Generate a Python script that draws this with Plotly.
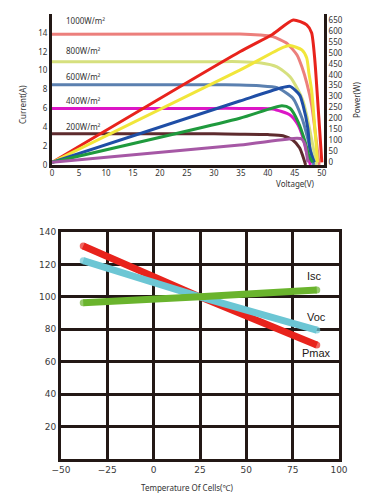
import plotly.graph_objects as go

# ---------------- Top chart data (I-V and P-V curves) ----------------
irr_labels = ["1000W/m²", "800W/m²", "600W/m²", "400W/m²", "200W/m²"]

# I-V curves (Voltage V, Current A)
iv_v_1000 = [0, 30, 34.8, 38.5, 40.9, 43.5, 45.4, 46.3, 47.2, 48.1, 49.5]
iv_i_1000 = [13.85, 13.88, 13.88, 13.77, 13.6, 12.9, 11.66, 10.4, 8.7, 6.4, 0]
iv_v_800 = [0, 30, 34.8, 38.5, 41.7, 44.1, 45.6, 46.5, 47.6, 49.0]
iv_i_800 = [10.95, 10.95, 10.95, 10.84, 10.4, 9.36, 7.95, 6.8, 4.2, 0]
iv_v_600 = [0, 30, 34.8, 38.5, 41.7, 44.6, 46.3, 47.3, 48.5]
iv_i_600 = [8.5, 8.5, 8.48, 8.4, 8.2, 7.1, 5.0, 3.0, 0]
iv_v_400 = [0, 30, 34.8, 38.5, 40.9, 44.1, 45.6, 46.5, 47.2, 47.9]
iv_i_400 = [6.0, 6.0, 6.0, 5.98, 5.93, 5.3, 4.24, 2.9, 1.3, 0]
iv_v_200 = [0, 30, 34.8, 40, 42.8, 44.6, 45.9, 46.5, 47.0]
iv_i_200 = [3.3, 3.3, 3.27, 3.22, 3.1, 2.65, 1.8, 0.9, 0]

# P-V curves (Voltage V, Power W)
pv_v_1000 = [0, 34.8, 40.9, 44.7, 47.2, 48.1, 48.7, 49.1, 50.0]
pv_p_1000 = [0, 505, 585, 650, 627, 591, 467, 330, 0]
pv_v_800 = [0, 34.8, 42.8, 44.1, 46.3, 47.2, 47.6, 48.1, 49.2]
pv_p_800 = [0, 421, 525, 533, 513, 476, 408, 330, 0]
pv_v_600 = [0, 34.8, 42.2, 44.1, 45.9, 46.5, 47.4, 47.8, 48.6]
pv_p_600 = [0, 280, 338, 347, 307, 262, 157, 60, 0]
pv_v_400 = [0, 34.8, 42.6, 44.1, 45.6, 46.9, 47.6, 48.3]
pv_p_400 = [0, 201, 258, 247, 185, 94, 30, 0]
pv_v_200 = [0, 34.8, 45.4, 46.3, 46.9, 47.4]
pv_p_200 = [0, 79, 110, 106, 79, 0]

iv_colors = ["#ec7f7c", "#d6e07e", "#5b80b0", "#dc16c6", "#5e2b2e"]
pv_colors = ["#e8231c", "#f1e63a", "#1f4ea6", "#1f9a3d", "#a658a5"]

x_ticks_top = [0, 5, 10, 15, 20, 25, 30, 35, 40, 45, 50]
i_ticks = [0, 2, 4, 6, 8, 10, 12, 14]
p_ticks = [0, 50, 100, 150, 200, 250, 300, 350, 400, 450, 500, 550, 600, 650]

# ---------------- Bottom chart data (temperature coefficients) ----------------
temp = [-38, 25, 88]
pmax_vals = [131.4, 100.0, 70.3]
voc_vals = [122.3, 100.0, 79.5]
isc_vals = [96.4, 100.0, 104.2]
series_names = ["Isc", "Voc", "Pmax"]
temp_ticks = [-50, -25, 0, 25, 50, 75, 100]
pct_ticks = [20, 40, 60, 80, 100, 120, 140]

fig = go.Figure()

iv_v = [iv_v_1000, iv_v_800, iv_v_600, iv_v_400, iv_v_200]
iv_i = [iv_i_1000, iv_i_800, iv_i_600, iv_i_400, iv_i_200]
pv_v = [pv_v_1000, pv_v_800, pv_v_600, pv_v_400, pv_v_200]
pv_p = [pv_p_1000, pv_p_800, pv_p_600, pv_p_400, pv_p_200]

for k in range(5):
    fig.add_trace(go.Scatter(x=iv_v[k], y=iv_i[k], mode="lines",
                             line=dict(color=iv_colors[k], width=3, shape="spline", smoothing=0.6),
                             xaxis="x", yaxis="y", showlegend=False, hoverinfo="skip"))
for k in range(5):
    fig.add_trace(go.Scatter(x=pv_v[k], y=pv_p[k], mode="lines",
                             line=dict(color=pv_colors[k], width=3, shape="spline", smoothing=0.6),
                             xaxis="x", yaxis="y2", showlegend=False, hoverinfo="skip"))

label_y = [15.3, 12.1, 9.4, 6.8, 4.1]
for k in range(5):
    fig.add_annotation(x=2.2, y=label_y[k], xref="x", yref="y", text=irr_labels[k],
                       showarrow=False, xanchor="left", yanchor="middle",
                       font=dict(family="Noto Sans", size=8, color="#333333"))

# bottom chart lines (red underneath, cyan, green on top)
for vals, col in [(pmax_vals, "#e8231c"), (voc_vals, "#6cc6d4"), (isc_vals, "#6ab42d")]:
    fig.add_trace(go.Scatter(x=temp, y=vals, mode="lines+markers",
                             line=dict(color=col, width=7, shape="spline", smoothing=0.3),
                             marker=dict(color=col, size=[7, 0, 7], line=dict(width=0)),
                             xaxis="x2", yaxis="y3", showlegend=False, hoverinfo="skip"))

ann_pos = {"Isc": (87, 112.9), "Voc": (88, 87.6), "Pmax": (88, 65.4)}
for name in series_names:
    ax_, ay_ = ann_pos[name]
    fig.add_annotation(x=ax_, y=ay_, xref="x2", yref="y3", text=name, showarrow=False,
                       xanchor="center", yanchor="middle",
                       font=dict(family="Liberation Sans", size=11, color="#231815"))

axis_col = "#231815"
tick_font_top = dict(family="Noto Sans", size=8, color="#333333")
tick_font_bot = dict(family="DejaVu Sans", size=9, color="#3a3a3a")

fig.update_layout(
    width=372, height=501, autosize=False,
    margin=dict(l=0, r=0, t=0, b=0, autoexpand=False),
    paper_bgcolor="white", plot_bgcolor="white",
    xaxis=dict(domain=[52 / 372, 324 / 372], range=[0, 50.4], tickvals=x_ticks_top,
               showgrid=False, zeroline=False, showline=True, linecolor=axis_col, linewidth=3,
               ticks="", tickfont=tick_font_top, anchor="y", automargin=False,
               ticklabelstandoff=-2),
    yaxis=dict(domain=[1 - 165 / 501, 1 - 14 / 501], range=[0, 16], tickvals=i_ticks,
               showgrid=False, zeroline=False, showline=True, linecolor=axis_col, linewidth=3,
               ticks="", tickfont=tick_font_top, anchor="x", automargin=False),
    yaxis2=dict(domain=[1 - 165 / 501, 1 - 14 / 501], range=[-12, 677], tickvals=p_ticks,
                overlaying="y", side="right", anchor="x",
                showgrid=False, zeroline=False, showline=True, linecolor=axis_col, linewidth=3,
                ticks="", tickfont=tick_font_top, automargin=False),
    xaxis2=dict(domain=[61 / 372, 339 / 372], range=[-50, 100], tickvals=temp_ticks,
                showgrid=True, gridcolor=axis_col, gridwidth=3, zeroline=False,
                showline=True, mirror=True, linecolor=axis_col, linewidth=3,
                ticks="", tickfont=tick_font_bot, anchor="y3", automargin=False),
    yaxis3=dict(domain=[1 - 459 / 501, 1 - 232 / 501], range=[0, 140], tickvals=pct_ticks,
                showgrid=True, gridcolor=axis_col, gridwidth=3, zeroline=False,
                showline=True, mirror=True, linecolor=axis_col, linewidth=3,
                ticks="", tickfont=tick_font_bot, anchor="x2", automargin=False),
)

# axis titles as annotations
title_font = dict(family="Noto Sans", size=8, color="#333333")
fig.add_annotation(x=22 / 372, y=1 - 105 / 501, xref="paper", yref="paper", text="Current(A)",
                   textangle=-90, showarrow=False, xanchor="center", yanchor="middle", font=title_font)
fig.add_annotation(x=357 / 372, y=1 - 100 / 501, xref="paper", yref="paper", text="Power(W)",
                   textangle=-90, showarrow=False, xanchor="center", yanchor="middle", font=title_font)
fig.add_annotation(x=295 / 372, y=1 - 184 / 501, xref="paper", yref="paper", text="Voltage(V)",
                   showarrow=False, xanchor="center", yanchor="middle", font=title_font)
fig.add_annotation(x=187 / 372, y=1 - 487 / 501, xref="paper", yref="paper",
                   text="Temperature Of Cells(℃)",
                   showarrow=False, xanchor="center", yanchor="middle", font=title_font)

fig.write_html("out.html", config={"displayModeBar": False},
               post_script="document.body.style.margin='0';document.body.style.overflow='hidden';")
